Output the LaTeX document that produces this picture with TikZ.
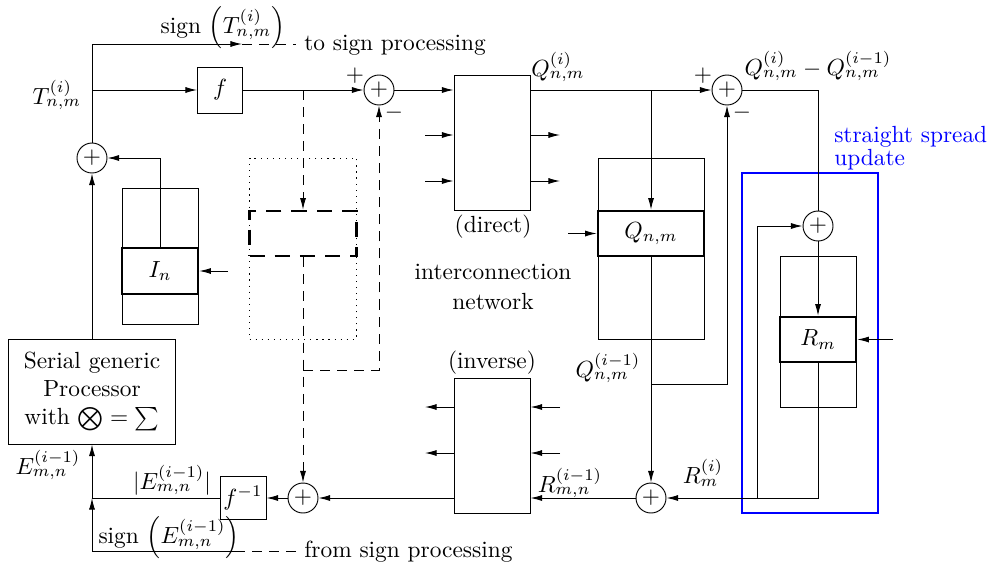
\documentclass[tikz,border=0pt]{standalone}
\usetikzlibrary{arrows.meta}
\newcommand{\pxl}{0.4279pt}
\begin{document}
\begin{tikzpicture}[x=0.4279pt, y=-0.4279pt, line width=0.4pt,
		bloque/.style={draw, line width=0.4pt, inner sep=0pt},
		memoria/.style={draw, line width=1.1pt, inner sep=0pt},
		sumador/.style={circle, draw, line width=0.4pt, minimum size=30*\pxl, inner sep=0pt},
		flecha/.style={-{Latex[length=5pt,width=2.6pt]}},
		rayas/.style={dash pattern=on 4.3pt off 3pt}]

	\useasboundingbox (0,0) rectangle (997,568);

	% Bloques f, f^-1 y procesador
	\node[bloque, minimum width=45*\pxl, minimum height=46*\pxl] (f) at (220,90) {$f$};
	\node[bloque, minimum width=46*\pxl, minimum height=43*\pxl] (finv) at (243,498) {$f^{-1}$};
	\node[bloque, minimum width=167*\pxl, minimum height=105*\pxl, align=center] (serial) at (92,391.5)
		{Serial generic\\Processor\\with $\bigotimes=\sum$};

	% Memorias I, Q, R
	\node[bloque, minimum width=76*\pxl, minimum height=136*\pxl] (memIext) at (160,256) {};
	\node[memoria, minimum width=76*\pxl, minimum height=46*\pxl] (memI) at (160,271) {$I_n$};
	\node[bloque, minimum width=106*\pxl, minimum height=181*\pxl] (memQext) at (651,248.5) {};
	\node[memoria, minimum width=106*\pxl, minimum height=45*\pxl] (memQ) at (651,233.5) {$Q_{n,m}$};
	\node[bloque, minimum width=76*\pxl, minimum height=151*\pxl] (memRext) at (818,331.5) {};
	\node[memoria, minimum width=76*\pxl, minimum height=45*\pxl] (memR) at (818,339.5) {$R_m$};

	% Memoria punteada y caja de rayas
	\node[bloque, dash pattern=on 0.5pt off 2.1pt, minimum width=107*\pxl, minimum height=181*\pxl] (punteada) at (303,248.5) {};
	\node[memoria, dash pattern=on 6.5pt off 4.3pt, minimum width=107*\pxl, minimum height=45*\pxl] (cajaD) at (303,233.5) {};

	% Red de interconexion
	\node[bloque, minimum width=76*\pxl, minimum height=135*\pxl] (directa) at (492,142.5) {};
	\node[bloque, minimum width=76*\pxl, minimum height=135*\pxl] (inversa) at (492,445.5) {};
	\node (tdirecta) at (493,227) {(direct)};
	\node (tred1) at (493,272) {interconnection};
	\node (tred2) at (493,302) {network};
	\node (tinversa) at (492,363) {(inverse)};

	% Caja azul
	\node[draw=blue, line width=0.5pt, minimum width=136*\pxl, minimum height=340*\pxl] (azul) at (810,343) {};
	\node[blue, anchor=base west] (tazul1) at (826,142) {straight spread};
	\node[blue, anchor=base west] (tazul2) at (826,165) {update};

	% Sumadores
	\foreach \n/\x/\y in {1/92/158, 2/379/90, 3/727/90, 4/818/226, 5/303/498, 6/651/498} {
			\node[sumador] (s\n) at (\x,\y) {$+$};
		}
	\node (mas2) at (355,76) {$+$};
	\node (menos2) at (394,113) {$-$};
	\node (mas3) at (703,76) {$+$};
	\node (menos3) at (742,113) {$-$};

	% Camino superior
	\coordinate (tsup) at (92,44);
	\coordinate (tsig) at (242,44);
	\node[anchor=west] (hacia) at (296,45.5) {to sign processing};
	\draw[flecha] (serial.north) -- (s1.south);
	\draw[flecha] (s1.north) -- (tsup) -- (tsig);
	\draw[rayas] (tsig) -- (tsig -| hacia.west);
	\draw[flecha] (tsup |- f.west) -- (f.west);
	\draw[flecha] (f.east) -- (s2.west);
	\draw[flecha] (s2.east) -- (directa.west |- s2);
	\draw[flecha] (directa.east |- s3) -- (s3.west);
	\draw (s3.east) -| (s4.north);

	% Entradas y salidas de la red
	\foreach \y in {135,181} {
			\coordinate (dentra\y) at (425,\y);
			\coordinate (dsale\y) at (560,\y);
			\draw[flecha] (dentra\y) -- (directa.west |- dentra\y);
			\draw[flecha] (directa.east |- dsale\y) -- (dsale\y);
		}
	\foreach \y in {407,453} {
			\coordinate (ientra\y) at (560,\y);
			\coordinate (isale\y) at (425,\y);
			\draw[flecha] (ientra\y) -- (inversa.east |- ientra\y);
			\draw[flecha] (inversa.west |- isale\y) -- (isale\y);
		}

	% Caminos de rayas
	\coordinate (esq) at (379,370);
	\draw[rayas, flecha] (f.east -| cajaD.north) -- (cajaD.north);
	\draw[rayas, flecha] (cajaD.south) -- (s5.north);
	\draw[rayas, flecha] (cajaD.south |- esq) -- (esq) -- (s2.south);

	% Memoria I
	\coordinate (iin) at (228,271);
	\draw[flecha] (iin) -- (memI.east);
	\draw[flecha] (memI.north) |- (s1.east);

	% Memoria Q
	\coordinate (qin) at (568,233.5);
	\coordinate (ramaQ) at (651,384);
	\draw[flecha] (qin) -- (memQ.west);
	\draw[flecha] (memQ |- s3) -- (memQ.north);
	\draw[flecha] (memQ.south) -- (s6.north);
	\draw[flecha] (ramaQ) -| (s3.south);

	% Memoria R
	\coordinate (rin) at (893,339.5);
	\coordinate (ramaR) at (757,498);
	\draw[flecha] (rin) -- (memR.east);
	\draw[flecha] (s4.south) -- (memR.north);
	\draw[flecha] (memR.south) |- (s6.east);
	\draw[flecha] (ramaR) |- (s4.west);

	% Camino inferior
	\coordinate (esig) at (237,551);
	\node[anchor=west] (desde) at (296,552) {from sign processing};
	\draw[flecha] (s6.west) -- (inversa.east |- s6);
	\draw[flecha] (inversa.west |- s5) -- (s5.east);
	\draw[flecha] (s5.west) -- (finv.east);
	\draw[flecha] (finv.west) -| (serial.south);
	\draw[rayas] (desde.west |- esig) -- (esig);
	\draw[flecha] (esig) -| (serial.south |- finv.west);

	% Etiquetas
	\node[inner sep=0pt] (lsignT) at (223,28) {sign $\left(T^{(i)}_{n,m}\right)$};
	\node (lT) at (57,95) {$T^{(i)}_{n,m}$};
	\node (lQ) at (558,67) {$Q^{(i)}_{n,m}$};
	\node (lQQ) at (818,66) {$Q^{(i)}_{n,m}-Q^{(i-1)}_{n,m}$};
	\node (lQant) at (608,368) {$Q^{(i-1)}_{n,m}$};
	\node (lR) at (703,473) {$R^{(i)}_{m}$};
	\node (lRant) at (570,483) {$R^{(i-1)}_{m,n}$};
	\node (lEabs) at (172,480) {$|E^{(i-1)}_{m,n}|$};
	\node (lE) at (48,465) {$E^{(i-1)}_{m,n}$};
	\node[inner sep=0pt] (lsignE) at (169,538) {sign $\left(E^{(i-1)}_{m,n}\right)$};
\end{tikzpicture}
\end{document}
